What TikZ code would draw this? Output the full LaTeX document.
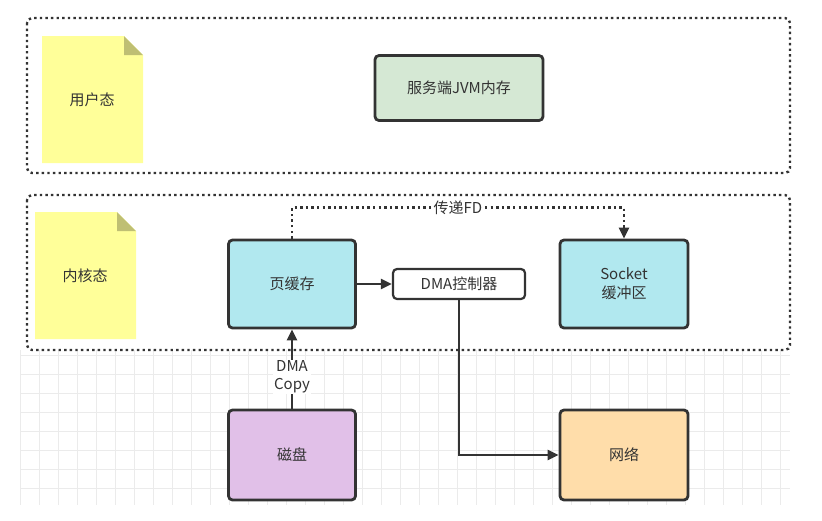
\documentclass[tikz,border=0pt]{standalone}
\usepackage{fontspec}
\setmainfont{Liberation Sans}
\newfontfamily\cjk{Noto Sans CJK SC}
\usetikzlibrary{arrows.meta,positioning}
\definecolor{cyanbox}{HTML}{B1E8EF}
\definecolor{greenbox}{HTML}{D5E8D4}
\definecolor{purplebox}{HTML}{E1C0E8}
\definecolor{orangebox}{HTML}{FFDDAA}
\definecolor{notefill}{HTML}{FFFF99}
\definecolor{edge}{HTML}{333333}
\tikzset{
  box/.style={draw=edge, line width=2.8pt, rounded corners=4pt, font=\cjk\fontsize{15}{19}\selectfont, text=edge, align=center},
  zone/.style={draw=edge, line width=2.4pt, dash pattern=on 2.4pt off 3.2pt, rounded corners=5pt},
  link/.style={draw=edge, line width=2.6pt, -{Triangle[length=11pt,width=10pt]}},
  lbl/.style={font=\cjk\fontsize{15}{18}\selectfont, text=edge, fill=white, inner sep=1pt, align=center}
}
\begin{document}
\begin{tikzpicture}[x=1pt,y=-1pt]
\useasboundingbox (0,0) rectangle (822,520);
% grid
\foreach \x in {20,39,...,790}
    \draw[black!8] (\x,350) -- (\x,505);
\foreach \y in {355,374,...,505}
    \draw[black!8] (20,\y) -- (790,\y);
% zones
\draw[zone] (27,18) rectangle (790,173);
\draw[zone] (27,195) rectangle (790,350);
% notes
\foreach \x/\y/\t in {42/36/用户态, 35/212/内核态} {
    \fill[notefill] (\x,\y) -- (\x+82,\y) -- (\x+101,\y+19) -- (\x+101,\y+127) -- (\x,\y+127) -- cycle;
    \fill[black!25!notefill] (\x+82,\y) -- (\x+82,\y+19) -- (\x+101,\y+19) -- cycle;
    \node[font=\cjk\fontsize{15}{18}\selectfont, text=edge] at (\x+50,\y+64) {\t};
}
% boxes
\node[box, fill=greenbox, minimum width=168pt, minimum height=65pt] (jvm) at (459,88) {服务端JVM内存};
\node[box, fill=cyanbox, minimum width=127pt, minimum height=88pt] (page) at (292,284) {页缓存};
\node[box, fill=white, line width=2.2pt, minimum width=132pt, minimum height=30pt] (dma) at (459,284) {DMA控制器};
\node[box, fill=cyanbox, minimum width=128pt, minimum height=88pt] (sock) at (624,284) {Socket\\缓冲区};
\node[box, fill=purplebox, minimum width=127pt, minimum height=90pt] (disk) at (292,455) {磁盘};
\node[box, fill=orangebox, minimum width=128pt, minimum height=90pt] (net) at (624,455) {网络};
% connectors
\draw[link] (disk) -- node[lbl, pos=0.4] {DMA\\Copy} (page);
\draw[link] (page) -- (dma);
\draw[link] (dma.south) |- (net.west);
\draw[link, line width=2.4pt, dash pattern=on 2.4pt off 3.2pt] (page.north) -- ++(0,-31) -| node[lbl, pos=0.25] {传递FD} (sock.north);
\end{tikzpicture}
\end{document}
